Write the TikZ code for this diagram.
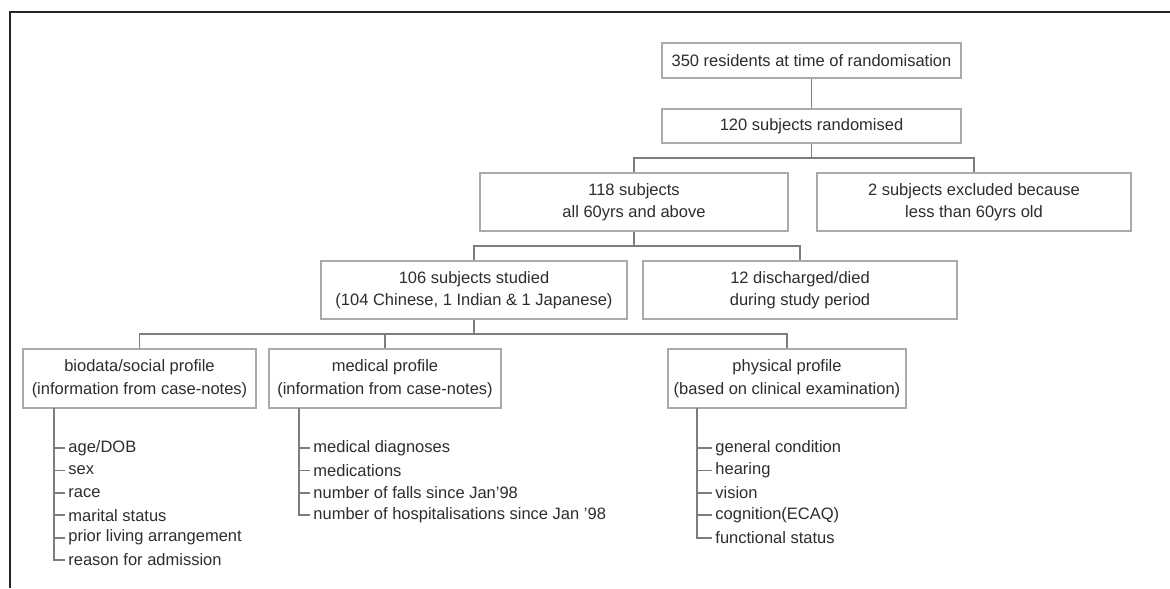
\documentclass[tikz,border=0pt]{standalone}
\usepackage{fontspec}
\setmainfont{Liberation Sans}
\usepackage{xcolor}
\usetikzlibrary{positioning}
\definecolor{boxgrey}{RGB}{170,170,170}
\definecolor{linegrey}{RGB}{125,125,125}
\definecolor{textgrey}{RGB}{45,45,45}

\begin{document}
\begin{tikzpicture}[x=0.5pt, y=-0.5pt,
    box/.style={draw=boxgrey, line width=0.9pt, fill=white, align=center, inner sep=0pt,
      font=\fontsize{8.25}{11.25}\selectfont, text=textgrey},
    item/.style={anchor=west, inner ysep=0pt, inner xsep=1.5pt,
      font=\fontsize{8.25}{10}\selectfont, text=textgrey},
    link/.style={draw=linegrey, line width=0.9pt}]
  \useasboundingbox (0,0) rectangle (1170,588);
  % frame
  \draw[line width=1pt, black!85] (10,588) |- (1170,12);
  % top of the flow
  \node[box, minimum width=149.5pt, minimum height=17.5pt] (res) at (811.5,60.5)
    {350 residents at time of randomisation};
  \node[box, minimum width=149.5pt, minimum height=17pt] (rand) at (811.5,126)
    {120 subjects randomised};
  \draw[link] (res) -- (rand);
  % age split
  \node[box, minimum width=154pt, minimum height=29pt] (sub118) at (634,202)
    {118 subjects\\all 60yrs and above};
  \node[box, minimum width=157pt, minimum height=29pt] (excl) at (974,202)
    {2 subjects excluded because\\less than 60yrs old};
  \draw[link] (rand.south) -- ++(0,14) coordinate (j1);
  \draw[link] (sub118.north) |- (j1) -| (excl.north);
  % studied / lost
  \node[box, minimum width=153pt, minimum height=29pt] (sub106) at (474,290)
    {106 subjects studied\\(104 Chinese, 1 Indian \& 1 Japanese)};
  \node[box, minimum width=157pt, minimum height=29pt] (disch) at (800,290)
    {12 discharged/died\\during study period};
  \draw[link] (sub118.south) -- ++(0,14) coordinate (j2);
  \draw[link] (sub106.north) |- (j2) -| (disch.north);
  % profiles
  \node[box, minimum width=116.5pt, minimum height=29.5pt] (bio) at (139.5,378.5)
    {biodata/social profile\\(information from case-notes)};
  \node[box, minimum width=116pt, minimum height=29.5pt] (med) at (385,378.5)
    {medical profile\\(information from case-notes)};
  \node[box, minimum width=119pt, minimum height=29.5pt] (phys) at (787,378.5)
    {physical profile\\(based on clinical examination)};
  \draw[link] (sub106.south) -- ++(0,14) coordinate (j3);
  \draw[link] (bio.north) |- (j3) -| (phys.north);
  \draw[link] (med.north) -- (med.north |- j3);
  % lists
  \coordinate (biospine) at (54,408);
  \coordinate (medspine) at (299,408);
  \coordinate (physspine) at (697,408);
  \foreach \t [count=\i] in {{age/DOB}, sex, race, marital status,
      prior living arrangement, reason for admission}
    \node[item] (bio\i) at (65,425.6+22.4*\i) {\t};
  \foreach \t [count=\i] in {medical diagnoses, medications,
      number of falls since Jan'98, number of hospitalisations since Jan '98}
    \node[item] (med\i) at (310,425.6+22.4*\i) {\t};
  \foreach \t [count=\i] in {general condition, hearing, vision,
      cognition(ECAQ), functional status}
    \node[item] (phys\i) at (712,425.6+22.4*\i) {\t};
  \draw[link] (biospine) |- (bio6.west);
  \foreach \i in {1,...,5}
    \draw[link] (biospine |- bio\i.west) -- (bio\i.west);
  \draw[link] (medspine) |- (med4.west);
  \foreach \i in {1,...,3}
    \draw[link] (medspine |- med\i.west) -- (med\i.west);
  \draw[link] (physspine) |- (phys5.west);
  \foreach \i in {1,...,4}
    \draw[link] (physspine |- phys\i.west) -- (phys\i.west);
\end{tikzpicture}
\end{document}
